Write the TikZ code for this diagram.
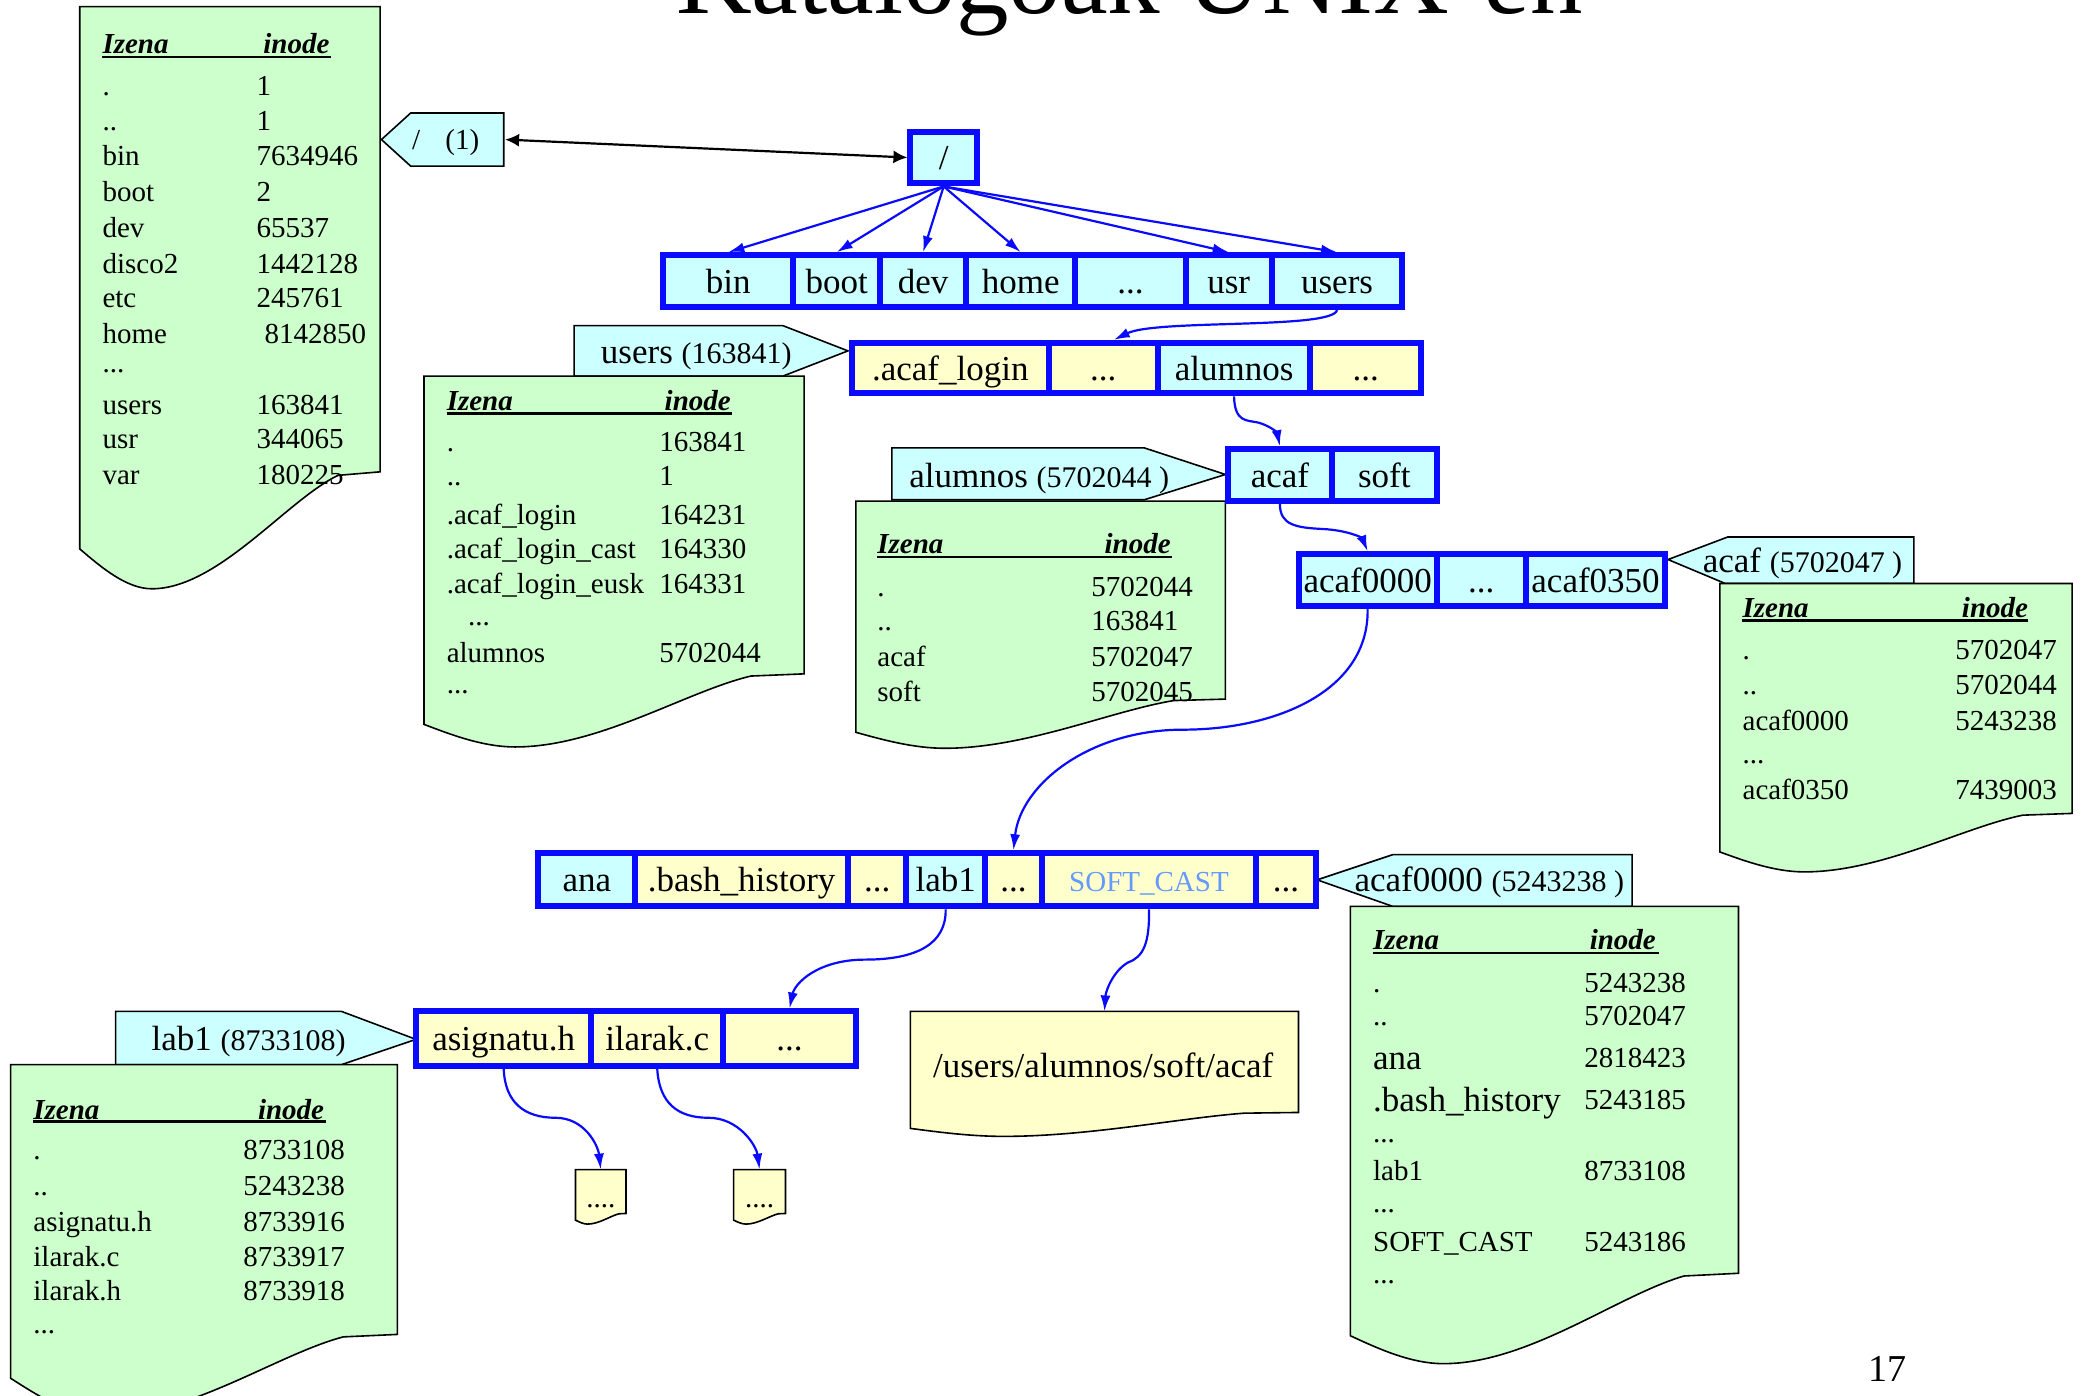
\documentclass[tikz,border=0pt]{standalone}
\usepackage{fontspec}
\setmainfont{Liberation Serif}
\usetikzlibrary{arrows.meta,calc}
\definecolor{cy}{HTML}{CCFFFF}
\definecolor{ye}{HTML}{FFFFCC}
\definecolor{gr}{HTML}{CCFFCC}
\definecolor{bb}{HTML}{0A0AFF}
\definecolor{lb}{HTML}{6699FF}
\newcommand\fs[1]{\fontsize{#1}{#1}\selectfont}
\newcommand\docshape[7]{%
 \pgfmathsetmacro\dsW{#3-#1}%
 \pgfmathsetmacro\dsD{#6-#4}%
 \pgfmathsetmacro\dsE{#6-#5}%
 \filldraw[docst, fill=#7] (#1,#2) -- (#3,#2) -- (#3,#4) -- ({#3-0.14*\dsW},{#4+0.03*\dsD}) .. controls ({#3-0.31*\dsW},{#4+0.24*\dsD}) and ({#1+0.46*\dsW},#6) .. ({#1+0.24*\dsW},#6) .. controls ({#1+0.155*\dsW},#6) and ({#1+0.07*\dsW},{#5+0.45*\dsE}) .. (#1,#5) -- cycle;}
\newcommand\cell[7]{%
 \pgfmathsetmacro\cellW{(#4-#2)*1.32908}%
 \pgfmathsetmacro\cellH{(#5-#3)*1.32908}%
 \node[cellst, fill=#6, minimum width=\cellW pt, minimum height=\cellH pt] (#1) at ({(#2+#4)/2},{(#3+#5)/2}) {#7};}
\begin{document}
\begin{tikzpicture}[x=1.32908pt,y=-1.32908pt,
 cellst/.style={draw=bb, line width=6pt, inner sep=0pt, font=\fs{35}, text height=24pt, text depth=0pt},
 lt/.style={anchor=west, inner sep=0pt, font=\fs{29}, text height=20pt, text depth=0pt},
 ltb/.style={lt, font=\fs{35}, text height=24pt},
 tt/.style={lt, text height=23pt},
 hd/.style={lt, font=\fs{29}\bfseries\itshape},
 uline/.style={draw=black, line width=2.6pt},
 docst/.style={draw=black, line width=1.6pt},
 tabst/.style={draw=black, line width=1.6pt, fill=cy},
 conn/.style={draw=bb, line width=2.2pt, -{Latex[length=16pt,width=10pt]}},
 dbl/.style={draw=black, line width=2.2pt, {Latex[length=14pt,width=13pt]}-{Latex[length=14pt,width=13pt]}},
]
\clip (0,0) rectangle (1568,1050);
\fill[white] (0,0) rectangle (1568,1050);

% title and page number
\node[anchor=base west, inner sep=0pt, font=\fs{105}] (title) at (508.6,10.5) {Katalogoak UNIX-en};
\node[inner sep=0pt, font=\fs{38}, text height=26pt, text depth=0pt] (pg) at (1420,1030) {17};

% tabs
\filldraw[tabst] (287,105) -- (309,85) -- (379,85) -- (379,125) -- (309,125) -- cycle;
\filldraw[tabst] (432,283) -- (432,245) -- (589,245) -- (638,264) -- (589,283) -- cycle;
\filldraw[tabst] (671,376) -- (671,337) -- (861,337) -- (922,357) -- (861,376) -- cycle;
\filldraw[tabst] (1255,421) -- (1300,404) -- (1440,404) -- (1440,439) -- (1298,439) -- cycle;
\filldraw[tabst] (991,662) -- (1048,643) -- (1228,643) -- (1228,682) -- (1048,682) -- cycle;
\filldraw[tabst] (87,801) -- (87,761) -- (257,761) -- (313,782) -- (257,801) -- cycle;

% document shapes
\docshape{60}{5}{286}{355}{413}{443}{gr}
\docshape{319}{283}{605}{507}{545}{562}{gr}
\docshape{644}{377}{922}{526}{551}{563}{gr}
\docshape{1294}{439}{1559}{612}{641}{656}{gr}
\docshape{1016}{682}{1308}{958}{1005}{1026}{gr}
\docshape{8}{801}{299}{1004}{1037}{1066}{gr}
\docshape{685}{761}{977}{837}{849}{855}{ye}
\docshape{433}{880}{471}{913}{918}{921}{ye}
\docshape{552}{880}{591}{913}{918}{921}{ye}

% tab texts
\node[lt] (tab1a) at (310,105) {/};
\node[lt] (tab1b) at (335,105) {(1)};
\node[tt] (tab2) at (452,265) {\fs{35}users \fs{30}(163841)};
\node[tt] (tab3) at (684,358) {\fs{35}alumnos \fs{30}(5702044 )};
\node[tt] (tab4) at (1281,422) {\fs{35}acaf \fs{30}(5702047 )};
\node[tt] (tab5) at (1019,662) {\fs{35}acaf0000 \fs{30}(5243238 )};
\node[tt] (tab6) at (114,782) {\fs{35}lab1 \fs{30}(8733108)};
\coordinate (t1e) at (380,105);

% cells
\cell{root}{685}{99}{735}{138}{cy}{/}
\cell{bin}{499}{192}{597}{231}{cy}{bin}
\cell{boot}{597}{192}{662}{231}{cy}{boot}
\cell{dev}{662}{192}{727}{231}{cy}{dev}
\cell{home}{727}{192}{809}{231}{cy}{home}
\cell{dotsb}{809}{192}{892}{231}{cy}{...}
\cell{usr}{892}{192}{957}{231}{cy}{usr}
\cell{users}{957}{192}{1055}{231}{cy}{users}
\cell{c1}{641}{258}{789}{296}{ye}{.acaf\_login}
\cell{c2}{789}{258}{871}{296}{ye}{...}
\cell{c3}{871}{258}{986}{296}{cy}{alumnos}
\cell{c4}{986}{258}{1069}{296}{ye}{...}
\cell{acaf}{924}{338}{1002}{377}{cy}{acaf}
\cell{soft}{1002}{338}{1081}{377}{cy}{soft}
\cell{e1}{977}{417}{1081}{456}{cy}{acaf0000}
\cell{e2}{1081}{417}{1148}{456}{cy}{...}
\cell{e3}{1148}{417}{1253}{456}{cy}{acaf0350}
\cell{f1}{405}{642}{478}{682}{cy}{ana}
\cell{f2}{478}{642}{638}{682}{ye}{.bash\_history}
\cell{f3}{638}{642}{682}{682}{ye}{...}
\cell{f4}{682}{642}{741}{682}{cy}{lab1}
\cell{f5}{741}{642}{784}{682}{ye}{...}
\cell{f6}{784}{642}{945}{682}{ye}{\fs{29}\color{lb}SOFT\_CAST}
\cell{f7}{945}{642}{990}{682}{ye}{...}
\cell{g1}{313}{761}{445}{802}{ye}{asignatu.h}
\cell{g2}{445}{761}{544}{802}{ye}{ilarak.c}
\cell{g3}{544}{761}{644}{802}{ye}{...}

% document texts / targets
\coordinate (pathdoc) at (831,761);
\coordinate (doc1) at (452,880);
\coordinate (doc2) at (571.5,880);
\node[inner sep=0pt, font=\fs{35}, text height=24pt, text depth=0pt] (pathtxt) at (830,802) {/users/alumnos/soft/acaf};
\node[inner sep=0pt, font=\fs{29}, text height=20pt, text depth=0pt] (d1txt) at (452,901) {....};
\node[inner sep=0pt, font=\fs{29}, text height=20pt, text depth=0pt] (d2txt) at (571.5,901) {....};

% connectors
\draw[dbl] (t1e) -- (root.west);
\foreach \c in {bin,boot,dev,home,usr,users} {\draw[conn] (root.south) -- (\c.north);}
\draw[conn] (users.south) .. controls (1003,248) and (870,240) .. ($(c2.north)+(8,0)$);
\draw[conn] (c3.south) .. controls (929,318) and (938,316) .. (947,318) .. controls (957,321) and (961,326) .. (acaf.north);
\draw[conn] (acaf.south) .. controls (963,395) and (975,397) .. (995,398) .. controls (1015,399) and (1025,405) .. (e1.north);
\draw[conn] (e1.south) .. controls (1030,520) and (960,549) .. (890,549) .. controls (820,549) and (768,590) .. (f5.north);
\draw[conn] (f4.south) .. controls (712,710) and (690,722) .. (651,722) .. controls (615,722) and (598,740) .. (g3.north);
\draw[conn] (f6.south) .. controls (865,710) and (860,720) .. (849,724) .. controls (838,730) and (832,745) .. (pathdoc);
\draw[conn] (g1.south) .. controls (380,830) and (395,841) .. (418,841) .. controls (440,841) and (450,862) .. (doc1);
\draw[conn] (g2.south) .. controls (496,830) and (510,841) .. (533,841) .. controls (556,841) and (569,862) .. (doc2);

% root list
\node[hd] (h1a) at (77,33) {Izena};
\node[hd] (h1b) at (198,33) {inode};
\draw[uline] (77,43) -- (249,43);
\foreach \y/\n/\v in {64/./1, 91/../1, 117/bin/7634946, 144/boot/2, 171/dev/65537, 198/disco2/1442128, 224/etc/245761, 304/users/163841, 330/usr/344065, 357/var/180225} {
  \node[lt] at (77,\y) {\n}; \node[lt] at (193,\y) {\v};}
\node[lt] at (77,251) {home}; \node[lt] at (199,251) {8142850};
\node[lt] at (77,273) {...};

% users list
\node[hd] (h2a) at (336,301) {Izena};
\node[hd] (h2b) at (500,301) {inode};
\draw[uline] (336,311) -- (551,311);
\foreach \y/\n/\v in {332/./163841, 358/../1, 387/.acaf\_login/164231, 413/.acaf\_login\_cast/164330, 439/.acaf\_login\_eusk/164331, 491/alumnos/5702044} {
  \node[lt] at (336,\y) {\n}; \node[lt] at (496,\y) {\v};}
\node[lt] at (352,463) {...};
\node[lt] at (336,514) {...};

% alumnos list
\node[hd] (h3a) at (660,409) {Izena};
\node[hd] (h3b) at (831,409) {inode};
\draw[uline] (660,419) -- (882,419);
\foreach \y/\n/\v in {441/./5702044, 467/../163841, 494/acaf/5702047, 520/soft/5702045} {
  \node[lt] at (660,\y) {\n}; \node[lt] at (821,\y) {\v};}

% acaf list
\node[hd] (h4a) at (1311,457) {Izena};
\node[hd] (h4b) at (1476,457) {inode};
\draw[uline] (1311,467) -- (1526,467);
\foreach \y/\n/\v in {489/./5702047, 515/../5702044, 542/acaf0000/5243238, 594/acaf0350/7439003} {
  \node[lt] at (1311,\y) {\n}; \node[lt] at (1471,\y) {\v};}
\node[lt] at (1311,567) {...};

% acaf0000 list
\node[hd] (h5a) at (1033,707) {Izena};
\node[hd] (h5b) at (1196,707) {inode};
\draw[uline] (1033,717) -- (1248,717);
\foreach \y/\n/\v in {739/./5243238, 764/../5702047, 881/lab1/8733108, 934/SOFT\_CAST/5243186} {
  \node[lt] at (1033,\y) {\n}; \node[lt] at (1192,\y) {\v};}
\node[ltb] at (1033,796) {ana}; \node[lt] at (1192,796) {2818423};
\node[ltb] at (1033,827) {.bash\_history}; \node[lt] at (1192,827) {5243185};
\node[lt] at (1033,852) {...};
\node[lt] at (1033,905) {...};
\node[lt] at (1033,958) {...};

% lab1 list
\node[hd] (h6a) at (25,835) {Izena};
\node[hd] (h6b) at (194,835) {inode};
\draw[uline] (25,844) -- (245,844);
\foreach \y/\n/\v in {865/./8733108, 892/../5243238, 919/asignatu.h/8733916, 945/ilarak.c/8733917, 971/ilarak.h/8733918} {
  \node[lt] at (25,\y) {\n}; \node[lt] at (183,\y) {\v};}
\node[lt] at (25,996) {...};
\end{tikzpicture}
\end{document}
